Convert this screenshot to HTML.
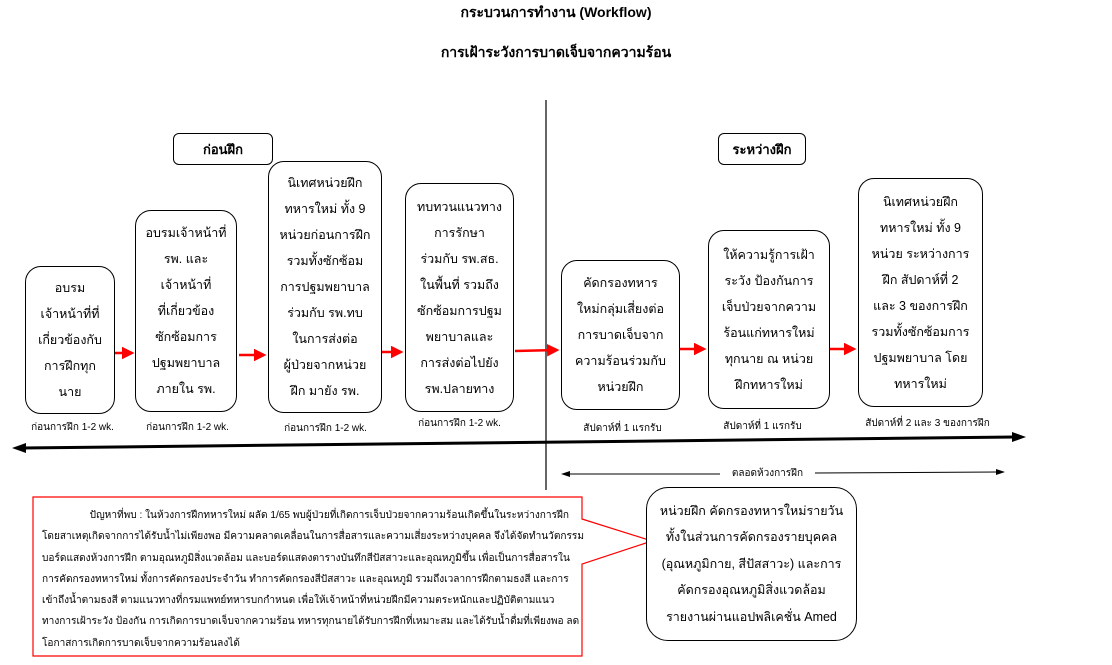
<!DOCTYPE html>
<html><head><meta charset="utf-8">
<style>
body{margin:0;width:1112px;height:665px;background:#fff;position:relative;overflow:hidden;font-family:"Liberation Sans","DejaVu Sans",sans-serif;color:#000}
.a{position:absolute}
.b{position:absolute;border:1.3px solid #000;border-radius:16px;box-sizing:border-box;display:flex;align-items:center;justify-content:center;text-align:center;font-size:12.5px;line-height:26px;background:#fff}
.h{position:absolute;border:1.3px solid #000;border-radius:6px;box-sizing:border-box;display:flex;align-items:center;justify-content:center;font-weight:bold;font-size:13px}
.l{position:absolute;font-size:10px;text-align:center;white-space:nowrap}
.t{position:absolute;left:0;width:1112px;text-align:center;font-weight:bold;font-size:14px}
</style></head><body>
<div class="t" style="top:2px">กระบวนการทำงาน (Workflow)</div>
<div class="t" style="top:42px">การเฝ้าระวังการบาดเจ็บจากความร้อน</div>
<svg class="a" style="left:0;top:0" width="1112" height="665">
<defs>
<marker id="r" markerWidth="5" markerHeight="5" refX="4" refY="2.5" orient="auto"><path d="M0,0L5,2.5L0,5z" fill="red"/></marker>
</defs>
<line x1="546" y1="100" x2="546" y2="490" stroke="#000" stroke-width="1.2"/>
<line x1="22" y1="448" x2="1015" y2="437" stroke="#000" stroke-width="3"/>
<path d="M12,448L26,443L26,453z" fill="#000"/>
<path d="M1026,437L1012,432L1012,442z" fill="#000"/>
<line x1="570" y1="474" x2="720" y2="474" stroke="#000" stroke-width="1"/>
<line x1="815" y1="473" x2="998" y2="472" stroke="#000" stroke-width="1"/>
<path d="M561,474L570,471L570,477z" fill="#000"/>
<path d="M1005,472L996,469L996,475z" fill="#000"/>
<g stroke="red" stroke-width="2.5" marker-end="url(#r)">
<line x1="115" y1="353" x2="132" y2="353"/>
<line x1="239" y1="355" x2="264" y2="355"/>
<line x1="382" y1="352" x2="401" y2="352"/>
<line x1="515" y1="351" x2="557" y2="350"/>
<line x1="680" y1="349" x2="704" y2="349"/>
<line x1="830" y1="349" x2="854" y2="349"/>
</g>
<path d="M582,497L33,497L33,656L582,656L582,564L652,541L582,519z" fill="#fff" stroke="red" stroke-width="1.2"/>
</svg>
<div class="h" style="left:173px;top:133px;width:100px;height:32px">ก่อนฝึก</div>
<div class="h" style="left:718px;top:133px;width:88px;height:32px">ระหว่างฝึก</div>
<div class="b" style="left:25px;top:266px;width:90px;height:148px">อบรม<br>เจ้าหน้าที่ที่<br>เกี่ยวข้องกับ<br>การฝึกทุก<br>นาย</div>
<div class="b" style="left:135px;top:210px;width:102px;height:202px">อบรมเจ้าหน้าที่<br>รพ. และ<br>เจ้าหน้าที่<br>ที่เกี่ยวข้อง<br>ซักซ้อมการ<br>ปฐมพยาบาล<br>ภายใน รพ.</div>
<div class="b" style="left:268px;top:161px;width:114px;height:252px">นิเทศหน่วยฝึก<br>ทหารใหม่ ทั้ง 9<br>หน่วยก่อนการฝึก<br>รวมทั้งซักซ้อม<br>การปฐมพยาบาล<br>ร่วมกับ รพ.ทบ<br>ในการส่งต่อ<br>ผู้ป่วยจากหน่วย<br>ฝึก มายัง รพ.</div>
<div class="b" style="left:405px;top:183px;width:109px;height:229px">ทบทวนแนวทาง<br>การรักษา<br>ร่วมกับ รพ.สธ.<br>ในพื้นที่ รวมถึง<br>ซักซ้อมการปฐม<br>พยาบาลและ<br>การส่งต่อไปยัง<br>รพ.ปลายทาง</div>
<div class="b" style="left:561px;top:260px;width:119px;height:150px">คัดกรองทหาร<br>ใหม่กลุ่มเสี่ยงต่อ<br>การบาดเจ็บจาก<br>ความร้อนร่วมกับ<br>หน่วยฝึก</div>
<div class="b" style="left:708px;top:230px;width:122px;height:179px">ให้ความรู้การเฝ้า<br>ระวัง ป้องกันการ<br>เจ็บป่วยจากความ<br>ร้อนแก่ทหารใหม่<br>ทุกนาย ณ หน่วย<br>ฝึกทหารใหม่</div>
<div class="b" style="left:858px;top:178px;width:125px;height:229px">นิเทศหน่วยฝึก<br>ทหารใหม่ ทั้ง 9<br>หน่วย ระหว่างการ<br>ฝึก สัปดาห์ที่ 2<br>และ 3 ของการฝึก<br>รวมทั้งซักซ้อมการ<br>ปฐมพยาบาล โดย<br>ทหารใหม่</div>
<div class="l" style="left:20px;top:420px;width:105px">ก่อนการฝึก 1-2 wk.</div>
<div class="l" style="left:135px;top:420px;width:105px">ก่อนการฝึก 1-2 wk.</div>
<div class="l" style="left:273px;top:421px;width:105px">ก่อนการฝึก 1-2 wk.</div>
<div class="l" style="left:407px;top:416px;width:105px">ก่อนการฝึก 1-2 wk.</div>
<div class="l" style="left:570px;top:421px;width:105px">สัปดาห์ที่ 1 แรกรับ</div>
<div class="l" style="left:710px;top:419px;width:105px">สัปดาห์ที่ 1 แรกรับ</div>
<div class="l" style="left:860px;top:416px;width:135px">สัปดาห์ที่ 2 และ 3 ของการฝึก</div>
<div class="l" style="left:720px;top:466px;width:95px">ตลอดห้วงการฝึก</div>
<div class="a" style="left:42px;top:505px;width:540px;font-size:10.1px;line-height:21.3px;white-space:nowrap">&nbsp;&nbsp;&nbsp;&nbsp;&nbsp;&nbsp;&nbsp;&nbsp;&nbsp;&nbsp;&nbsp;&nbsp;&nbsp;&nbsp;&nbsp;&nbsp;&nbsp;ปัญหาที่พบ : ในห้วงการฝึกทหารใหม่ ผลัด 1/65 พบผู้ป่วยที่เกิดการเจ็บป่วยจากความร้อนเกิดขึ้นในระหว่างการฝึก<br>โดยสาเหตุเกิดจากการได้รับน้ำไม่เพียงพอ มีความคลาดเคลื่อนในการสื่อสารและความเสี่ยงระหว่างบุคคล จึงได้จัดทำนวัตกรรม<br>บอร์ดแสดงห้วงการฝึก ตามอุณหภูมิสิ่งแวดล้อม และบอร์ดแสดงตารางบันทึกสีปัสสาวะและอุณหภูมิขึ้น เพื่อเป็นการสื่อสารใน<br>การคัดกรองทหารใหม่ ทั้งการคัดกรองประจำวัน ทำการคัดกรองสีปัสสาวะ และอุณหภูมิ รวมถึงเวลาการฝึกตามธงสี และการ<br>เข้าถึงน้ำตามธงสี ตามแนวทางที่กรมแพทย์ทหารบกกำหนด เพื่อให้เจ้าหน้าที่หน่วยฝึกมีความตระหนักและปฏิบัติตามแนว<br>ทางการเฝ้าระวัง ป้องกัน การเกิดการบาดเจ็บจากความร้อน ทหารทุกนายได้รับการฝึกที่เหมาะสม และได้รับน้ำดื่มที่เพียงพอ ลด<br>โอกาสการเกิดการบาดเจ็บจากความร้อนลงได้</div>
<div class="b" style="left:646px;top:487px;width:211px;height:154px;border-radius:22px;font-size:12.5px;line-height:26.5px">หน่วยฝึก คัดกรองทหารใหม่รายวัน<br>ทั้งในส่วนการคัดกรองรายบุคคล<br>(อุณหภูมิกาย, สีปัสสาวะ) และการ<br>คัดกรองอุณหภูมิสิ่งแวดล้อม<br>รายงานผ่านแอปพลิเคชั่น Amed</div>
</body></html>
